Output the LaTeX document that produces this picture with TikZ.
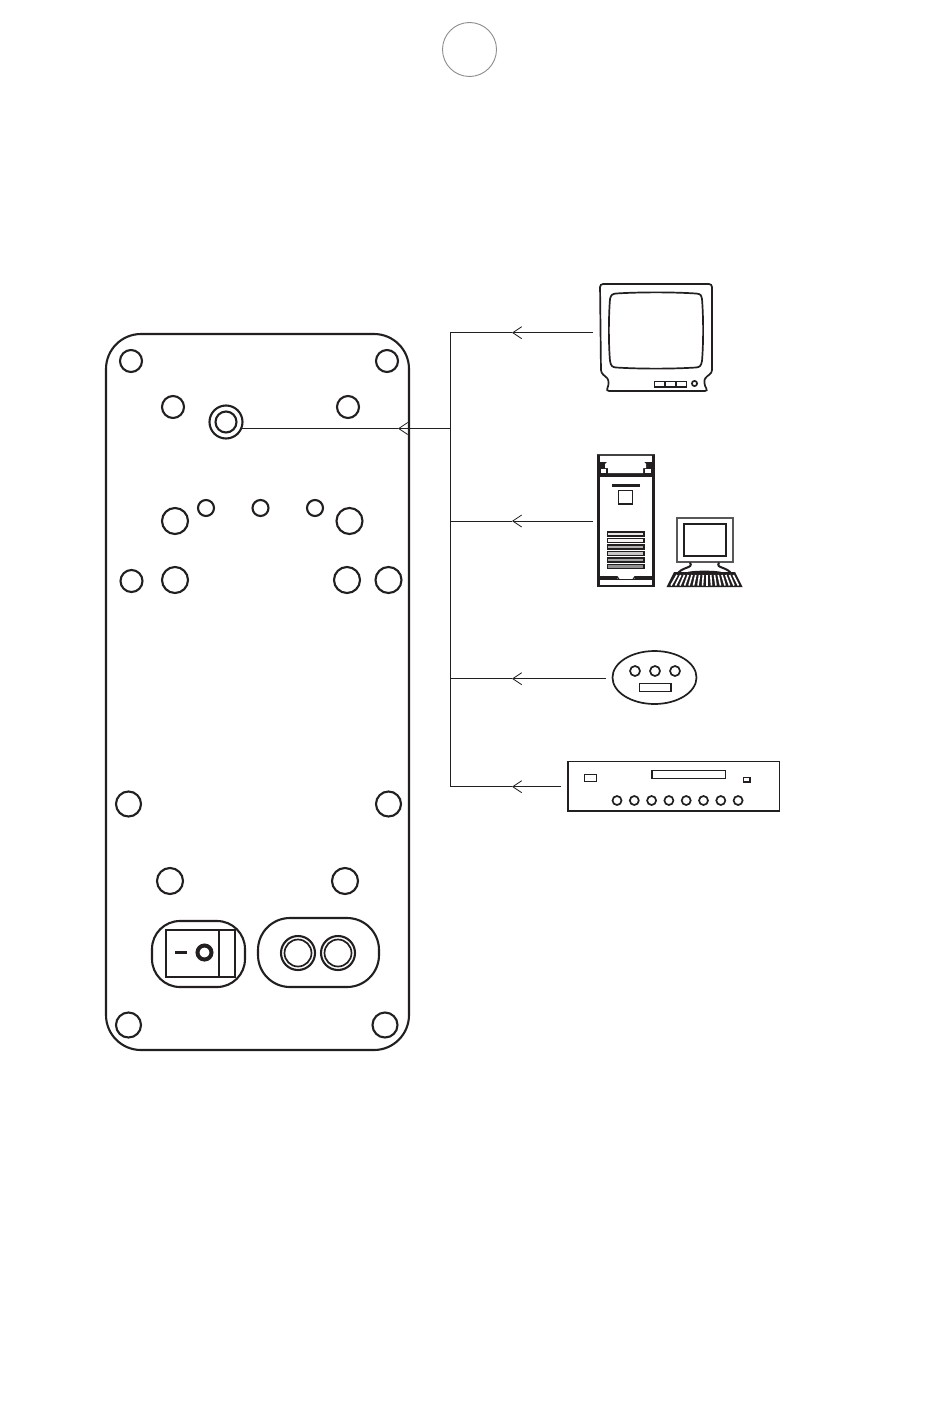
\documentclass[tikz,border=0pt]{standalone}
\usetikzlibrary{arrows.meta}
\definecolor{ink}{HTML}{231F20}
\tikzset{
  x=1pt,y=-1pt,
  every path/.style={color=ink},
  heavy/.style={draw=ink,line width=2.1pt},
  mid/.style={draw=ink,line width=1.7pt},
  fine/.style={draw=ink,line width=1.3pt},
  wire/.style={draw=ink,line width=1pt},
  tipped/.style={wire,-{Straight Barb[length=9pt,width=12pt,line width=0.8pt]}},
  hole/.style={circle,heavy,inner sep=0pt,minimum size=#1},
}
\begin{document}
\begin{tikzpicture}
\useasboundingbox (0,0) rectangle (950,1418);
\fill[white] (0,0) rectangle (950,1418);
% badge
\node[circle,draw=black!45,line width=0.9pt,minimum size=54pt,inner sep=0pt] (badge) at (469.5,49.5) {};
% panel
\node[heavy,rounded corners=35pt,minimum width=303pt,minimum height=716pt,inner sep=0pt] (panel) at (257.5,692) {};
\foreach \n/\px/\py/\d in {
 a/131/361/22, b/387/361/22, c/173/407/22, d/348/407/22,
 e/175/521/26, f/349.5/521/26, g/206/508/16, h/260.5/508/16, i/315/508/16,
 j/131.5/581/22, k/175/580/26, l/347/580/26, m/388.5/580/26,
 n/128.5/804/25, o/388.5/804/25, p/170/881/26, q/345/881/26,
 r/128.5/1025/25, s/385/1025/25}
  \node[hole=\d pt] (h\n) at (\px,\py) {};
% jack
\node[hole=33pt] (jack) at (226,422) {};
\node[hole=21pt] (jackin) at (226,422) {};
% switch
\node[heavy,rounded corners=28pt,minimum width=93pt,minimum height=66pt,inner sep=0pt] (swplate) at (198.5,954) {};
\node[heavy,minimum width=69pt,minimum height=47pt,inner sep=0pt] (swbody) at (200.5,953.5) {};
\draw[heavy] (219,930) -- (219,977);
\draw[draw=ink,line width=3.6pt] (175,952.5) -- (187,952.5);
\node[circle,draw=ink,line width=4pt,minimum size=14pt,inner sep=0pt] (swdot) at (204.5,952.5) {};
% socket
\node[heavy,rounded corners=32pt,minimum width=121pt,minimum height=69pt,inner sep=0pt] (socket) at (318.5,952.5) {};
\foreach \n/\px in {u/298,v/338}{
  \node[hole=34pt] (o\n) at (\px,953) {};
  \node[circle,mid,minimum size=27pt,inner sep=0pt] (i\n) at (\px,953) {};
}
% bus and connectors
\coordinate (tvport) at (593,332.7);
\coordinate (pcport) at (593,521);
\coordinate (padport) at (606,678.7);
\coordinate (playerport) at (561,786.7);
\coordinate (jackport) at (242,428.5);
\coordinate (bus1) at (450.5,332.7);
\coordinate (bus2) at (450.5,428.5);
\coordinate (bus3) at (450.5,521);
\coordinate (bus4) at (450.5,678.7);
\coordinate (bus5) at (450.5,786.7);
\coordinate (tip1) at (512,332.7);
\coordinate (tip2) at (398,428.5);
\coordinate (tip3) at (512,521);
\coordinate (tip4) at (512,678.7);
\coordinate (tip5) at (512,786.7);
\draw[wire] ([yshift=0.5pt]bus1) -- ([yshift=-0.5pt]bus5);
\draw[tipped] (tvport) -- (tip1); \draw[wire] (tip1) -- (bus1);
\draw[tipped] (bus2) -- (tip2); \draw[wire] (tip2) -- (jackport);
\draw[tipped] (pcport) -- (tip3); \draw[wire] (tip3) -- (bus3);
\draw[tipped] (padport) -- (tip4); \draw[wire] (tip4) -- (bus4);
\draw[tipped] (playerport) -- (tip5); \draw[wire] (tip5) -- (bus5);
% TV
\draw[mid,rounded corners=3pt] (606,391) .. controls (609,385) and (609,380) .. (605,376)
  -- (601,373) -- (600,284) -- (712,284) -- (712,373) -- (707,376)
  .. controls (704,380) and (704,385) .. (708,391) -- cycle;
\draw[mid] (616,293.5) .. controls (640,292) and (672,292) .. (696,293.5)
  .. controls (701,294) and (701,295) .. (702,299)
  .. controls (703.5,318) and (703.5,343) .. (702,361)
  .. controls (701,366) and (700,367) .. (696,367.5)
  .. controls (672,369) and (640,369) .. (616,367.5)
  .. controls (612,367) and (611,366) .. (610,361)
  .. controls (608.5,343) and (608.5,318) .. (610,299)
  .. controls (611,295) and (612,294) .. (616,293.5) -- cycle;
\draw[mid] (654.5,381.5) rectangle (665,387);
\draw[mid] (665.5,381.5) rectangle (676,387);
\draw[mid] (676.5,381.5) rectangle (686.5,387);
\draw[mid] (694.5,383.5) circle (2.6);
% tower
\draw[draw=ink!85,line width=1.3pt] (596.5,455) -- (654.5,455);
\draw[draw=ink,line width=1.6pt] (597,586.2) -- (654,586.2);
\draw[draw=ink,line width=3pt] (598,454.5) -- (598,587);
\draw[draw=ink,line width=3pt] (653,454.5) -- (653,587);
% tower head
\fill[ink] (598,462) rectangle (653,477);
\fill[white] (599.5,456) rectangle (606,461.5);
\fill[white] (644.5,456) rectangle (651.5,461.5);
\fill[white] (608,456) -- (643,456) -- (643,461) -- (646,464) -- (646,468) -- (643,468) -- (643,473) -- (608,473) -- (608,468) -- (605,468) -- (605,464) -- (608,461) -- cycle;
\fill[white] (601,469) rectangle (606,472.5);
\fill[white] (645,469) rectangle (650.5,472.5);
\draw[draw=ink,line width=3pt] (612,485.5) -- (640,485.5);
\draw[mid] (618.5,490.5) rectangle (632.5,504);
\foreach \y/\c in {532/10,538.5/5,545/35,551.5/25,558/40,564.5/50}
  \draw[fine,fill=ink!\c] (607.5,\y) rectangle (644,\y+4);
\fill[ink] (599,576) rectangle (617,580);
\fill[ink] (635,576) rectangle (652,580);
\draw[fine] (617,579.5) -- (635,579.5);
\draw[fine] (617,576.5) -- (619,579.5);
\draw[fine] (635,576.5) -- (633,579.5);
% desktop
\draw[draw=ink!75,line width=2pt] (676.5,517.5) rectangle (732.5,561.5);
\draw[draw=ink,line width=2pt] (683.5,523.5) rectangle (725.5,556);
\draw[draw=ink,line width=2pt] (690,562.5) .. controls (694,569) and (681,566) .. (677,575);
\draw[draw=ink,line width=2pt] (719,562.5) .. controls (715,569) and (728,566) .. (732,575);
\draw[draw=ink,line width=1.4pt] (688,572.5) .. controls (695,571) and (714,571) .. (721,572.5);
\fill[ink] (674,572) -- (735,572) -- (742.5,587) -- (666.5,587) -- cycle;
\foreach \i in {0,...,15}
  \draw[draw=white,line width=1.6pt] (677+\i*3.75,575) -- (671+\i*4.5,585.5);
% keypad
\draw[mid] (654.5,677.5) ellipse (42 and 26.5);
\foreach \px in {635,655,675}
  \draw[mid] (\px,671) circle (5);
\draw[mid] (639.5,683.5) rectangle (671,691.5);
% player
\draw[mid] (568,761.5) rectangle (779.5,811);
\draw[draw=ink,line width=1.9pt] (584.5,774.5) rectangle (596.5,781.5);
\draw[mid] (652,770.5) rectangle (725.5,778.5);
\draw[draw=ink,line width=1.9pt] (743.5,777.5) rectangle (750,782);
\foreach \i in {0,...,7}
  \draw[mid] (617+\i*17.3,800.5) circle (4.5);
\end{tikzpicture}
\end{document}
